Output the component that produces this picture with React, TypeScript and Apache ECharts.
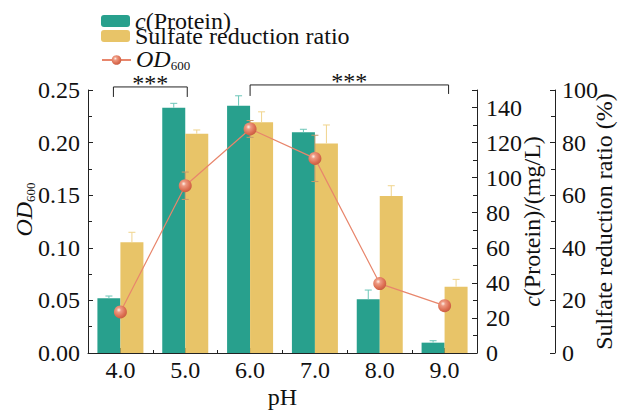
import React, { useEffect, useRef } from "react";
import * as echarts from "echarts";

// ---------- data ----------
const categories = ["4.0", "5.0", "6.0", "7.0", "8.0", "9.0"];
const proteinValues = [31.2, 139.9, 141.0, 125.9, 30.6, 5.9]; // mg/L
const proteinErrors = [1.3, 2.5, 5.7, 1.7, 5.3, 1.1];
const sulfateValues = [42.1, 83.4, 87.7, 79.7, 59.7, 25.2]; // %
const sulfateErrors = [3.8, 1.4, 4.0, 7.0, 3.9, 2.8];
const odValues = [0.039, 0.159, 0.213, 0.185, 0.066, 0.045];
const odErrors = [0.002, 0.013, 0.008, 0.022, 0.003, 0.003];
const odTicks = [0, 0.05, 0.1, 0.15, 0.2, 0.25];
const proteinTicks = [0, 20, 40, 60, 80, 100, 120, 140];
const sulfateTicks = [0, 20, 40, 60, 80, 100];
// significance brackets: [start category index, end category index, level on OD axis, label]
const brackets: [number, number, number, string][] = [
  [0, 1, 0.2529, "***"],
  [2, 5, 0.2548, "***"],
];

// ---------- styles ----------
const FONT = "Liberation Serif";
const FS = 24;
const GREEN = "#28a08d";
const YELLOW = "#e8c468";
const TEXT = "#111";
const BAR_W = 23;
const bracketOffsets = [
  { dx0: -7, dx1: 2, leg0: 10, leg1: 10 },
  { dx0: 0, dx1: 4, leg0: 11, leg1: 9 },
];

const sphere = {
  type: "radial",
  x: 0.38,
  y: 0.35,
  r: 0.7,
  colorStops: [
    { offset: 0, color: "#fff1ea" },
    { offset: 0.25, color: "#ee9a82" },
    { offset: 0.7, color: "#dc6e52" },
    { offset: 1, color: "#c65a3f" },
  ],
};

const subRich = {
  o: {
    fontFamily: FONT,
    fontSize: FS,
    lineHeight: 24,
    color: TEXT,
    fontStyle: "italic",
    padding: [0, 0, 2, 0],
  },
  s: { fontFamily: FONT, fontSize: 13, lineHeight: 13, color: TEXT, verticalAlign: "bottom" },
  i: { fontFamily: FONT, fontSize: FS, lineHeight: 24, color: TEXT, fontStyle: "italic" },
  n: { fontFamily: FONT, fontSize: FS, lineHeight: 24, color: TEXT },
};

function errorBarSeries(
  name: string,
  values: number[],
  errors: number[],
  yAxisIndex: number,
  dx: number,
  color: string,
  both: boolean
) {
  return {
    name,
    type: "custom",
    xAxisIndex: 0,
    yAxisIndex,
    z: 3,
    silent: true,
    data: values.map((v, i) => [i, v, errors[i]]),
    renderItem: (params: any, api: any) => {
      const i = api.value(0);
      const v = api.value(1);
      const e = api.value(2);
      const hi = api.coord([i, v + e]);
      const lo = api.coord([i, both ? v - e : v]);
      const x = hi[0] + dx;
      const cap = 3.5;
      const style = { stroke: color, lineWidth: 1 };
      const children: any[] = [
        { type: "line", shape: { x1: x, y1: lo[1], x2: x, y2: hi[1] }, style },
        { type: "line", shape: { x1: x - cap, y1: hi[1], x2: x + cap, y2: hi[1] }, style },
      ];
      if (both) {
        children.push({
          type: "line",
          shape: { x1: x - cap, y1: lo[1], x2: x + cap, y2: lo[1] },
          style,
        });
      }
      return { type: "group", children };
    },
  };
}

const legendBase = {
  orient: "vertical",
  left: 101,
  padding: 0,
  itemGap: 0,
  itemWidth: 29,
  itemHeight: 12,
  formatter: (name: string) => {
    if (name === "c(Protein)") return "{i|c}{n|(Protein)}";
    if (name === "OD600") return "{o|OD}{s|600}";
    return "{n|" + name + "}";
  },
  textStyle: { fontFamily: FONT, fontSize: FS, color: TEXT, rich: subRich },
};

export default function App() {
  const ref = useRef<HTMLDivElement>(null);

  useEffect(() => {
    if (!ref.current) return;
    const chart = echarts.init(ref.current, undefined, { renderer: "svg" });

    const axisLabel = { fontFamily: FONT, fontSize: FS, color: TEXT };
    const axisLine = { show: true, lineStyle: { color: "#222", width: 1 } };
    const tick = { show: true, inside: true, length: 5, lineStyle: { color: "#222" } };
    const minor = { show: true, splitNumber: 2, length: 4, lineStyle: { color: "#222" } };

    const option: any = {
      animation: false,
      backgroundColor: "#fff",
      grid: { left: 88, right: 146, top: 90, bottom: 58, outerBoundsMode: "none", containLabel: false },
      legend: [
        { ...legendBase, top: 9, data: ["c(Protein)"] },
        { ...legendBase, top: 24, data: ["Sulfate reduction ratio"] },
        { ...legendBase, top: 47, data: ["OD600"] },
      ],
      xAxis: [
        {
          type: "category",
          data: categories,
          position: "bottom",
          boundaryGap: true,
          axisLine,
          axisTick: { ...tick, alignWithLabel: true },
          axisLabel: { ...axisLabel, margin: 5 },
          name: "pH",
          nameLocation: "middle",
          nameGap: 32,
          nameMoveOverlap: false,
          nameTextStyle: { fontFamily: FONT, fontSize: FS, color: TEXT },
        },
        {
          type: "category",
          data: categories,
          position: "bottom",
          boundaryGap: true,
          axisLine: { show: false },
          axisTick: { show: true, inside: true, length: 3, lineStyle: { color: "#222" } },
          axisLabel: { show: false },
        },
      ],
      yAxis: [
        {
          type: "value",
          position: "left",
          min: odTicks[0],
          max: odTicks[odTicks.length - 1],
          interval: odTicks[1] - odTicks[0],
          splitLine: { show: false },
          axisLine,
          axisTick: tick,
          minorTick: minor,
          axisLabel: { ...axisLabel, margin: 8, formatter: (v: number) => v.toFixed(2) },
          name: "{o|OD}{s|600}",
          nameLocation: "middle",
          nameRotate: 90,
          nameGap: 51,
          nameMoveOverlap: false,
          nameTextStyle: { padding: [0, 0, 0, 24], rich: subRich },
        },
        {
          type: "value",
          position: "right",
          min: proteinTicks[0],
          max: 150,
          interval: proteinTicks[1] - proteinTicks[0],
          splitLine: { show: false },
          axisLine,
          axisTick: tick,
          minorTick: minor,
          axisLabel: {
            ...axisLabel,
            margin: 9,
            formatter: (v: number) => (proteinTicks.indexOf(v) >= 0 ? String(v) : ""),
          },
          name: "{i|c}{n|(Protein)/(mg/L)}",
          nameLocation: "middle",
          nameRotate: 90,
          nameGap: 43,
          nameMoveOverlap: false,
          nameTextStyle: { rich: subRich },
        },
        {
          type: "value",
          position: "right",
          offset: 78,
          min: sulfateTicks[0],
          max: sulfateTicks[sulfateTicks.length - 1],
          interval: sulfateTicks[1] - sulfateTicks[0],
          splitLine: { show: false },
          axisLine,
          axisTick: tick,
          minorTick: minor,
          axisLabel: { ...axisLabel, margin: 7 },
          name: "Sulfate reduction ratio (%)",
          nameLocation: "middle",
          nameRotate: 90,
          nameGap: 37,
          nameMoveOverlap: false,
          nameTextStyle: { fontFamily: FONT, fontSize: FS, color: TEXT },
        },
      ],
      series: [
        {
          name: "c(Protein)",
          type: "bar",
          xAxisIndex: 0,
          yAxisIndex: 1,
          barWidth: BAR_W,
          barGap: "0%",
          z: 2,
          itemStyle: { color: GREEN },
          data: proteinValues,
        },
        {
          name: "Sulfate reduction ratio",
          type: "bar",
          xAxisIndex: 0,
          yAxisIndex: 2,
          barWidth: BAR_W,
          barGap: "0%",
          z: 2,
          itemStyle: { color: YELLOW },
          data: sulfateValues,
        },
        errorBarSeries("proteinErr", proteinValues, proteinErrors, 1, -BAR_W / 2, "#6cc6b8", false),
        errorBarSeries("sulfateErr", sulfateValues, sulfateErrors, 2, BAR_W / 2, "#f0d48c", false),
        errorBarSeries("odErr", odValues, odErrors, 0, 0, "#c49a6c", true),
        {
          name: "OD600",
          type: "line",
          xAxisIndex: 0,
          yAxisIndex: 0,
          z: 5,
          symbol: "circle",
          symbolSize: 13,
          lineStyle: { color: "#e8866c", width: 1.2 },
          itemStyle: { color: sphere, borderWidth: 0 },
          data: odValues,
        },
        {
          name: "brackets",
          type: "custom",
          xAxisIndex: 0,
          yAxisIndex: 0,
          silent: true,
          clip: false,
          z: 6,
          data: brackets.map((b) => [b[0], b[1], b[2]]),
          renderItem: (params: any, api: any) => {
            const k = params.dataIndex;
            const off = bracketOffsets[k];
            const p0 = api.coord([api.value(0), api.value(2)]);
            const p1 = api.coord([api.value(1), api.value(2)]);
            const x0 = p0[0] + off.dx0;
            const x1 = p1[0] + off.dx1;
            const y = p0[1];
            return {
              type: "group",
              children: [
                {
                  type: "polyline",
                  shape: {
                    points: [
                      [x0, y + off.leg0],
                      [x0, y],
                      [x1, y],
                      [x1, y + off.leg1],
                    ],
                  },
                  style: { stroke: "#222", lineWidth: 1, fill: "none" },
                },
                {
                  type: "text",
                  x: (x0 + x1) / 2,
                  y: y - 3.5,
                  style: {
                    text: brackets[k][3],
                    fontFamily: FONT,
                    fontSize: FS,
                    fill: TEXT,
                    align: "center",
                    verticalAlign: "middle",
                  },
                },
              ],
            };
          },
        },
      ],
    };

    chart.setOption(option);
    return () => chart.dispose();
  }, []);

  return (
    <div
      ref={ref}
      style={{ position: "fixed", left: 0, top: 0, width: 623, height: 411, background: "#fff" }}
    />
  );
}
